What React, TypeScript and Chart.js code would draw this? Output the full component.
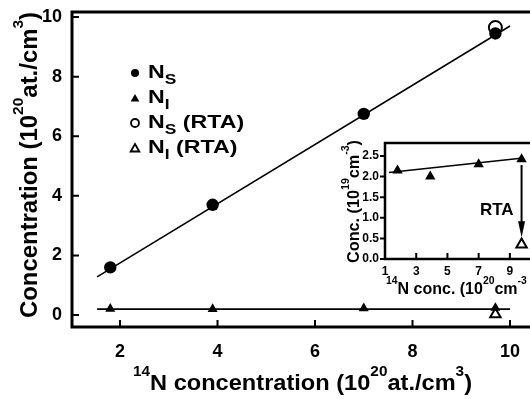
import React, { useEffect, useRef } from 'react';
import { Chart, registerables } from 'chart.js';
Chart.register(...registerables);

const FONT = '"Liberation Sans", Arial, Helvetica, sans-serif';

// ---- main plot data (units of 10^20 at./cm^3)
const N_CONC = [1.8, 3.9, 7.0, 9.7];
const NS = [1.6, 3.7, 6.75, 9.45];
const NI = [0.21, 0.2, 0.23, 0.24];
const RTA_X = [9.7];
const NS_RTA = [9.65];
const NI_RTA = [0.03];
const NS_FIT_X = [1.53, 10.0];
const NS_FIT_Y = [1.28, 9.7];
const NI_FIT_X = [1.53, 10.0];
const NI_FIT_Y = [0.2, 0.2];
const X_TICKS = [2, 4, 6, 8, 10];
const Y_TICKS = [0, 2, 4, 6, 8, 10];

// ---- inset data (units of 10^19 cm^-3)
const IN_X = [1.8, 3.9, 7.0, 9.75];
const IN_NI = [2.15, 2.0, 2.3, 2.42];
const IN_RTA_X = [9.75];
const IN_NI_RTA = [0.35];
const IN_FIT_X = [1.25, 9.85];
const IN_FIT_Y = [2.1, 2.45];
const IN_X_TICKS = [1, 3, 5, 7, 9];
const IN_Y_TICKS = [0, 0.5, 1.0, 1.5, 2.0, 2.5];
const ARROW_X = 9.75;
const ARROW_FROM = 2.28;
const ARROW_TO = 0.53;

type Seg = { t: string; k?: 'sup' | 'sub' };

const Y_TITLE: Seg[] = [{ t: 'Concentration (10' }, { t: '20', k: 'sup' }, { t: 'at./cm' }, { t: '3', k: 'sup' }, { t: ')' }];
const X_TITLE: Seg[] = [{ t: '14', k: 'sup' }, { t: 'N concentration (10' }, { t: '20', k: 'sup' }, { t: 'at./cm' }, { t: '3', k: 'sup' }, { t: ')' }];
const IN_Y_TITLE: Seg[] = [{ t: 'Conc. (10' }, { t: '19', k: 'sup' }, { t: 'cm' }, { t: '-3', k: 'sup' }, { t: ')' }];
const IN_X_TITLE: Seg[] = [{ t: '14', k: 'sup' }, { t: 'N conc. (10' }, { t: '20', k: 'sup' }, { t: 'cm' }, { t: '-3', k: 'sup' }];
const LEGEND: Seg[][] = [
  [{ t: 'N' }, { t: 'S', k: 'sub' }],
  [{ t: 'N' }, { t: 'I', k: 'sub' }],
  [{ t: 'N' }, { t: 'S', k: 'sub' }, { t: ' (RTA)' }],
  [{ t: 'N' }, { t: 'I', k: 'sub' }, { t: ' (RTA)' }],
];
const LEGEND_MARK = ['fcircle', 'ftri', 'ocircle', 'otri'];

function fontFor(size: number, k: string | undefined, sc: number) {
  return `bold ${k ? size * sc : size}px ${FONT}`;
}
function measureRich(ctx: CanvasRenderingContext2D, segs: Seg[], size: number, sc: number) {
  let w = 0;
  for (const s of segs) {
    ctx.font = fontFor(size, s.k, sc);
    w += ctx.measureText(s.t).width;
  }
  return w;
}
function drawRich(
  ctx: CanvasRenderingContext2D, segs: Seg[], x: number, y: number, size: number,
  align: 'left' | 'center' | 'right' = 'left', target?: number, sc = 0.65, hs = 1,
) {
  const w = measureRich(ctx, segs, size, sc);
  const sx = target ? target / w : hs;
  ctx.save();
  ctx.translate(x, y);
  ctx.scale(sx, 1);
  let cx = align === 'center' ? -w / 2 : align === 'right' ? -w : 0;
  ctx.textAlign = 'left';
  ctx.textBaseline = 'alphabetic';
  ctx.fillStyle = '#000';
  for (const s of segs) {
    ctx.font = fontFor(size, s.k, sc);
    const dy = s.k === 'sup' ? -size * 0.62 : s.k === 'sub' ? size * 0.33 : 0;
    ctx.fillText(s.t, cx, dy);
    cx += ctx.measureText(s.t).width;
  }
  ctx.restore();
}
function drawRotated(ctx: CanvasRenderingContext2D, segs: Seg[], x: number, y: number, size: number, target?: number) {
  ctx.save();
  ctx.translate(x, y);
  ctx.rotate(-Math.PI / 2);
  drawRich(ctx, segs, 0, 0, size, 'left', target);
  ctx.restore();
}
function marker(ctx: CanvasRenderingContext2D, kind: string, x: number, y: number, r: number) {
  ctx.beginPath();
  if (kind.endsWith('circle')) {
    ctx.arc(x, y, r, 0, Math.PI * 2);
  } else {
    ctx.moveTo(x, y - r);
    ctx.lineTo(x + r * 0.866, y + r / 2);
    ctx.lineTo(x - r * 0.866, y + r / 2);
    ctx.closePath();
  }
  if (kind.startsWith('f')) {
    ctx.fillStyle = '#000';
    ctx.fill();
  } else {
    ctx.fillStyle = '#fff';
    ctx.fill();
    ctx.lineWidth = 1.8;
    ctx.strokeStyle = '#000';
    ctx.stroke();
  }
}

const pts = (xs: number[], ys: number[]) => xs.map((x, i) => ({ x, y: ys[i] }));

const fitX = (h: number) => (s: any) => { s.height = h; s.paddingLeft = 0; s.paddingRight = 0; };
const fitY = (w: number) => (s: any) => { s.width = w; s.paddingTop = 0; s.paddingBottom = 0; };

const mainDeco = {
  id: 'mainDeco',
  afterDraw(chart: any) {
    const { ctx, chartArea: a } = chart;
    const xs = chart.scales.x, ys = chart.scales.y;
    ctx.save();
    ctx.strokeStyle = '#000';
    ctx.lineWidth = 3;
    ctx.lineCap = 'square';
    ctx.beginPath();
    ctx.moveTo(a.right + 5, a.top);
    ctx.lineTo(a.left, a.top);
    ctx.lineTo(a.left, a.bottom);
    ctx.lineTo(a.right + 5, a.bottom);
    ctx.stroke();
    ctx.lineCap = 'butt';
    ctx.lineWidth = 2;
    ctx.beginPath();
    X_TICKS.forEach((v) => {
      const px = xs.getPixelForValue(v);
      ctx.moveTo(px, a.bottom);
      ctx.lineTo(px, a.bottom - 7);
    });
    Y_TICKS.forEach((v) => {
      const py = ys.getPixelForValue(v);
      ctx.moveTo(a.left, py);
      ctx.lineTo(a.left + 7, py);
    });
    ctx.stroke();
    // legend
    const baseY = [78, 103, 128, 153];
    LEGEND.forEach((segs, i) => {
      const tri = LEGEND_MARK[i].endsWith('tri');
      marker(ctx, LEGEND_MARK[i], 135, baseY[i] - (tri ? 4 : 5), tri ? 5 : 4);
      drawRich(ctx, segs, 148, baseY[i], 19, 'left', undefined, 0.75, 1.22);
    });
    // titles
    drawRotated(ctx, Y_TITLE, 37, 318, 23, 306);
    drawRich(ctx, X_TITLE, 133, 390, 22, 'left', 339);
    ctx.restore();
  },
};

const insetDeco = {
  id: 'insetDeco',
  afterDraw(chart: any) {
    const { ctx, chartArea: a } = chart;
    const xs = chart.scales.x, ys = chart.scales.y;
    ctx.save();
    ctx.strokeStyle = '#000';
    ctx.lineWidth = 2.5;
    ctx.lineCap = 'square';
    ctx.beginPath();
    ctx.moveTo(a.right + 5, a.top);
    ctx.lineTo(a.left, a.top);
    ctx.lineTo(a.left, a.bottom);
    ctx.lineTo(a.right + 5, a.bottom);
    ctx.stroke();
    ctx.lineCap = 'butt';
    ctx.lineWidth = 2;
    ctx.beginPath();
    IN_X_TICKS.forEach((v) => {
      const px = xs.getPixelForValue(v);
      ctx.moveTo(px, a.bottom);
      ctx.lineTo(px, a.bottom - 6);
    });
    IN_Y_TICKS.forEach((v) => {
      const py = ys.getPixelForValue(v);
      ctx.moveTo(a.left, py);
      ctx.lineTo(a.left - 5, py);
    });
    ctx.stroke();
    // arrow
    const ax = xs.getPixelForValue(ARROW_X);
    const y0 = ys.getPixelForValue(ARROW_FROM);
    const y1 = ys.getPixelForValue(ARROW_TO);
    ctx.lineWidth = 2;
    ctx.beginPath();
    ctx.moveTo(ax, y0);
    ctx.lineTo(ax, y1 - 12);
    ctx.stroke();
    ctx.beginPath();
    ctx.moveTo(ax, y1);
    ctx.lineTo(ax - 3.5, y1 - 16);
    ctx.lineTo(ax + 3.5, y1 - 16);
    ctx.closePath();
    ctx.fillStyle = '#000';
    ctx.fill();
    drawRich(ctx, [{ t: 'RTA' }], ax - 8, ys.getPixelForValue(1.07), 17, 'right');
    // titles (canvas offset: left 330, top 125)
    drawRotated(ctx, IN_Y_TITLE, 359 - 330, 263 - 125, 16, 123);
    drawRich(ctx, IN_X_TITLE, 386 - 330, 294 - 125, 16, 'left');
    ctx.restore();
  },
};

const tickFont = (size: number) => ({ family: FONT, size, weight: 'bold' as const });

export default function App() {
  const mainRef = useRef<HTMLCanvasElement>(null);
  const insetRef = useRef<HTMLCanvasElement>(null);

  useEffect(() => {
    const mainChart = new Chart(mainRef.current!, {
      type: 'scatter',
      data: {
        datasets: [
          {
            label: 'Ns (RTA)', data: pts(RTA_X, NS_RTA), pointStyle: 'circle', pointRadius: 6.5,
            backgroundColor: 'rgba(255,255,255,0)', borderColor: '#000', borderWidth: 2, order: 0,
          },
          {
            label: 'Ns', data: pts(N_CONC, NS), pointStyle: 'circle', pointRadius: 6.2,
            backgroundColor: '#000', borderColor: '#000', borderWidth: 0, order: 1,
          },
          {
            label: 'NI', data: pts(N_CONC, NI), pointStyle: 'triangle', pointRadius: 5.8,
            backgroundColor: '#000', borderColor: '#000', borderWidth: 0, order: 1,
          },
          {
            label: 'NI (RTA)', data: pts(RTA_X, NI_RTA), pointStyle: 'triangle', pointRadius: 6,
            backgroundColor: '#fff', borderColor: '#000', borderWidth: 2, order: 2,
          },
          {
            label: 'Ns fit', type: 'line', data: pts(NS_FIT_X, NS_FIT_Y), showLine: true, pointRadius: 0,
            borderColor: '#000', borderWidth: 1.6, order: 5,
          } as any,
          {
            label: 'NI fit', type: 'line', data: pts(NI_FIT_X, NI_FIT_Y), showLine: true, pointRadius: 0,
            borderColor: '#000', borderWidth: 1.6, order: 5,
          } as any,
        ],
      },
      options: {
        responsive: false,
        animation: false,
        events: [],
        layout: { autoPadding: false, padding: { top: 12, right: 0, left: 0, bottom: 0 } },
        plugins: { legend: { display: false }, tooltip: { enabled: false }, title: { display: false } },
        scales: {
          x: {
            type: 'linear', min: 1.015, max: 10.41,
            grid: { display: false, drawTicks: false },
            border: { display: false },
            afterFit: fitX(72),
            afterBuildTicks: (s: any) => { s.ticks = X_TICKS.map((v) => ({ value: v })); },
            ticks: { color: '#000', font: tickFont(18), padding: 14, autoSkip: false, maxRotation: 0, callback: (v: any) => String(v) },
          },
          y: {
            type: 'linear', min: -0.4, max: 10.17,
            grid: { display: false, drawTicks: false },
            border: { display: false },
            afterFit: fitY(72),
            afterBuildTicks: (s: any) => { s.ticks = Y_TICKS.map((v) => ({ value: v })); },
            ticks: { color: '#000', font: tickFont(18), padding: 10, autoSkip: false, callback: (v: any) => String(v) },
          },
        },
      },
      plugins: [mainDeco],
    } as any);

    const insetChart = new Chart(insetRef.current!, {
      type: 'scatter',
      data: {
        datasets: [
          {
            label: 'NI', data: pts(IN_X, IN_NI), pointStyle: 'triangle', pointRadius: 6,
            backgroundColor: '#000', borderColor: '#000', borderWidth: 0, order: 1,
          },
          {
            label: 'NI (RTA)', data: pts(IN_RTA_X, IN_NI_RTA), pointStyle: 'triangle', pointRadius: 6,
            backgroundColor: '#fff', borderColor: '#000', borderWidth: 2, order: 1,
          },
          {
            label: 'fit', type: 'line', data: pts(IN_FIT_X, IN_FIT_Y), showLine: true, pointRadius: 0,
            borderColor: '#000', borderWidth: 1.6, order: 5,
          } as any,
        ],
      },
      options: {
        responsive: false,
        animation: false,
        events: [],
        layout: { autoPadding: false, padding: { top: 18, right: 0, left: 0, bottom: 0 } },
        plugins: { legend: { display: false }, tooltip: { enabled: false }, title: { display: false } },
        scales: {
          x: {
            type: 'linear', min: 1, max: 10.29,
            grid: { display: false, drawTicks: false },
            border: { display: false },
            afterFit: fitX(46),
            afterBuildTicks: (s: any) => { s.ticks = IN_X_TICKS.map((v) => ({ value: v })); },
            ticks: { color: '#000', font: tickFont(12), padding: 5, autoSkip: false, maxRotation: 0, callback: (v: any) => String(v) },
          },
          y: {
            type: 'linear', min: 0, max: 2.815,
            grid: { display: false, drawTicks: false },
            border: { display: false },
            afterFit: fitY(55),
            afterBuildTicks: (s: any) => { s.ticks = IN_Y_TICKS.map((v) => ({ value: v })); },
            ticks: { color: '#000', font: tickFont(12), padding: 6, autoSkip: false, callback: (v: any) => Number(v).toFixed(1) },
          },
        },
      },
      plugins: [insetDeco],
    } as any);

    return () => {
      mainChart.destroy();
      insetChart.destroy();
    };
  }, []);

  return (
    <div style={{ position: 'absolute', left: 0, top: 0, width: 530, height: 399, background: '#fff', overflow: 'hidden' }}>
      <canvas ref={mainRef} width={530} height={399} style={{ position: 'absolute', left: 0, top: 0, width: 530, height: 399 }} />
      <canvas ref={insetRef} width={200} height={180} style={{ position: 'absolute', left: 330, top: 125, width: 200, height: 180 }} />
    </div>
  );
}
